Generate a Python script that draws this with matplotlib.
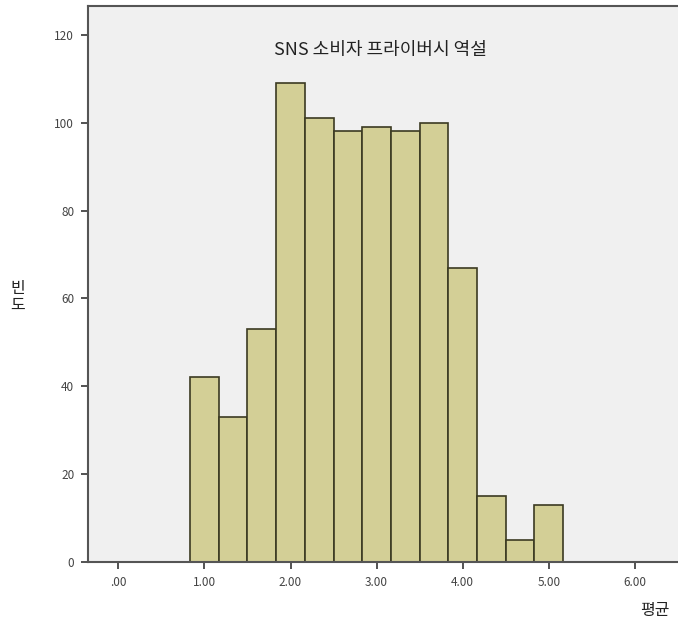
import matplotlib
matplotlib.use("Agg")
import matplotlib.pyplot as plt
import numpy as np

plt.rcParams['font.family'] = ['Noto Sans CJK KR', 'DejaVu Sans']

# histogram bins: centres at 1, 1.33, ... 5 (width 1/3)
bin_centers = [1.0, 4/3, 5/3, 2.0, 7/3, 8/3, 3.0, 10/3, 11/3, 4.0, 13/3, 14/3, 5.0]
counts = [42, 33, 53, 109, 101, 98, 99, 98, 100, 67, 15, 5, 13]
bin_width = 1/3

x_ticks = [0, 1, 2, 3, 4, 5, 6]
x_tick_labels = ['.00', '1.00', '2.00', '3.00', '4.00', '5.00', '6.00']
y_ticks = [0, 20, 40, 60, 80, 100, 120]

title = 'SNS 소비자 프라이버시 역설'
xlabel = '평균'
ylabel = '빈\n도'

fig = plt.figure(figsize=(6.78, 6.30), dpi=100)
ax = fig.add_axes([0.130, 0.108, 0.870, 0.882])
ax.set_facecolor('#f0f0f0')

ax.bar(bin_centers, counts, width=bin_width, color='#d3cf96',
       edgecolor='#3b3a22', linewidth=1.2, zorder=2)

ax.set_xlim(-0.35, 6.5)
ax.set_ylim(0, 126.5)
ax.set_xticks(x_ticks)
ax.set_xticklabels(x_tick_labels)
ax.set_yticks(y_ticks)
ax.tick_params(axis='both', labelsize=8.5, colors='#444444', length=5, width=1.3,
               direction='out', pad=5)

for side in ['left', 'bottom', 'top']:
    ax.spines[side].set_color('#555555')
    ax.spines[side].set_linewidth(1.5)
ax.spines['right'].set_visible(False)

ax.text(3.05, 116.5, title, ha='center', va='center',
        fontsize=13, color='#222222')

fig.text(655 / 678, 1 - 610 / 630, xlabel, ha='center', va='center',
         fontsize=11.5, color='#222222')
fig.text(18 / 678, 1 - 297 / 630, ylabel, ha='center', va='center',
         fontsize=11.5, color='#222222', linespacing=1.0)

fig.savefig('out.png', dpi=100, facecolor='white')
